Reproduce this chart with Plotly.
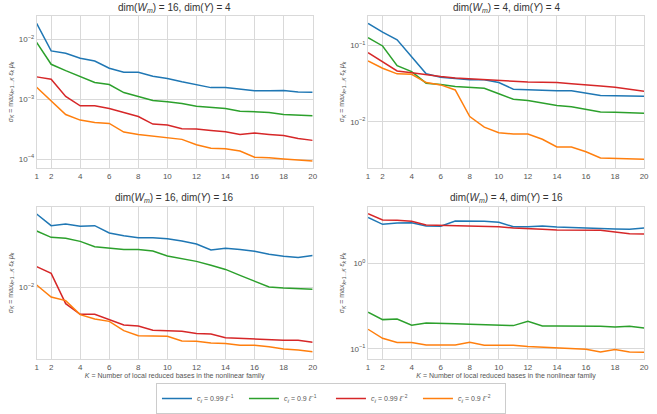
import plotly.graph_objects as go

K = list(range(1, 21))

series_names = [
    "<i>c<sub>ℓ</sub></i> = 0.99 <i>ℓ</i><sup>−1</sup>",
    "<i>c<sub>ℓ</sub></i> = 0.9 <i>ℓ</i><sup>−1</sup>",
    "<i>c<sub>ℓ</sub></i> = 0.99 <i>ℓ</i><sup>−2</sup>",
    "<i>c<sub>ℓ</sub></i> = 0.9 <i>ℓ</i><sup>−2</sup>",
]
colors = ["#1f77b4", "#2ca02c", "#d62728", "#ff7f0e"]

panel_titles = [
    "dim(<i>W<sub>m</sub></i>) = 16, dim(<i>Y</i>) = 4",
    "dim(<i>W<sub>m</sub></i>) = 4, dim(<i>Y</i>) = 4",
    "dim(<i>W<sub>m</sub></i>) = 16, dim(<i>Y</i>) = 16",
    "dim(<i>W<sub>m</sub></i>) = 4, dim(<i>Y</i>) = 16",
]

# Panel 1: dim(Wm)=16, dim(Y)=4
p1_blue = [0.0185, 0.0064, 0.00585, 0.00482, 0.00435, 0.00329, 0.00282, 0.00282, 0.00242, 0.00221,
           0.00195, 0.00176, 0.00156, 0.00156, 0.00147, 0.00138, 0.00138, 0.00139, 0.00132, 0.00131]
p1_green = [0.0089, 0.00383, 0.0030, 0.00239, 0.0019, 0.00176, 0.00129, 0.00111, 0.00095, 0.000903,
            0.000847, 0.000764, 0.000736, 0.000699, 0.000631, 0.000607, 0.0006, 0.000555, 0.000535, 0.000528]
p1_red = [0.00236, 0.00216, 0.00111, 0.000774, 0.000774, 0.000699, 0.0006, 0.000514, 0.000383, 0.000369,
          0.00032, 0.000316, 0.0003, 0.000286, 0.000258, 0.000271, 0.000258, 0.000248, 0.000221, 0.000205]
p1_orange = [0.00158, 0.00095, 0.000555, 0.000447, 0.000408, 0.000393, 0.000282, 0.000258, 0.000242, 0.00023,
             0.000213, 0.000173, 0.000151, 0.000149, 0.000136, 0.000107, 0.000105, 0.0001, 0.0000975, 0.0000927]

# Panel 2: dim(Wm)=4, dim(Y)=4
p2_blue = [0.196, 0.150, 0.119, 0.0717, 0.0426, 0.0385, 0.037, 0.0355, 0.0355, 0.0327,
           0.0268, 0.0262, 0.0255, 0.0255, 0.0255, 0.0238, 0.0221, 0.0219, 0.0217, 0.0217]
p2_green = [0.127, 0.099, 0.0547, 0.0456, 0.0321, 0.0309, 0.029, 0.0282, 0.0276, 0.0233,
            0.0198, 0.019, 0.0177, 0.0164, 0.0157, 0.0145, 0.0134, 0.0133, 0.013, 0.0129]
p2_red = [0.081, 0.0617, 0.0465, 0.0442, 0.0413, 0.0393, 0.0377, 0.0366, 0.0359, 0.0352,
          0.0341, 0.0334, 0.0331, 0.0328, 0.0315, 0.0302, 0.0296, 0.0285, 0.0271, 0.0252]
p2_orange = [0.063, 0.0505, 0.0426, 0.0421, 0.0327, 0.0305, 0.0262, 0.0117, 0.0085, 0.0072,
             0.0069, 0.0069, 0.0059, 0.00466, 0.00466, 0.00404, 0.00334, 0.00331, 0.00321, 0.00321]

# Panel 3: dim(Wm)=16, dim(Y)=16
p3_blue = [0.0526, 0.0404, 0.0419, 0.0398, 0.0404, 0.0342, 0.0322, 0.0308, 0.0308, 0.0301,
           0.0285, 0.0267, 0.0233, 0.0242, 0.0236, 0.0226, 0.0211, 0.0202, 0.0197, 0.0206]
p3_green = [0.0358, 0.0310, 0.0303, 0.0283, 0.0251, 0.0242, 0.0235, 0.0235, 0.0228, 0.0203,
            0.0191, 0.0180, 0.0165, 0.0150, 0.0131, 0.01145, 0.01008, 0.00985, 0.00978, 0.00956]
p3_red = [0.0160, 0.0137, 0.00691, 0.00543, 0.00543, 0.00485, 0.00427, 0.00417, 0.00378, 0.00375,
          0.00370, 0.00351, 0.00348, 0.00320, 0.00315, 0.00308, 0.00304, 0.00301, 0.00301, 0.00288]
p3_orange = [0.01054, 0.00804, 0.00740, 0.00539, 0.00489, 0.00463, 0.00375, 0.00335, 0.00332, 0.00330,
             0.00297, 0.00295, 0.00284, 0.00280, 0.00269, 0.00269, 0.00261, 0.00248, 0.00242, 0.00233]

# Panel 4: dim(Wm)=4, dim(Y)=16
p4_blue = [3.44, 2.853, 2.957, 2.984, 2.728, 2.704, 3.120, 3.120, 3.092, 3.010,
           2.679, 2.679, 2.728, 2.655, 2.608, 2.562, 2.516, 2.516, 2.494, 2.585]
p4_green = [0.268, 0.220, 0.224, 0.189, 0.201, 0.201, 0.1975, 0.194, 0.1906, 0.1873,
            0.1873, 0.2104, 0.1856, 0.1856, 0.1856, 0.1856, 0.1839, 0.1806, 0.1839, 0.1758]
p4_red = [3.801, 3.204, 3.177, 3.092, 2.803, 2.778, 2.704, 2.679, 2.679, 2.679,
          2.585, 2.562, 2.494, 2.449, 2.449, 2.449, 2.428, 2.322, 2.220, 2.200]
p4_orange = [0.1697, 0.1332, 0.1186, 0.1186, 0.1113, 0.1123, 0.1113, 0.1196, 0.1103, 0.1103,
             0.1103, 0.1065, 0.1046, 0.1009, 0.0991, 0.0991, 0.0923, 0.0982, 0.0923, 0.0915]

panels = [
    [p1_blue, p1_green, p1_red, p1_orange],
    [p2_blue, p2_green, p2_red, p2_orange],
    [p3_blue, p3_green, p3_red, p3_orange],
    [p4_blue, p4_green, p4_red, p4_orange],
]

x_ticks = [1, 2, 4, 6, 8, 10, 12, 14, 16, 18, 20]
y_tick_vals = [[1e-4, 1e-3, 1e-2], [1e-2, 1e-1], [1e-2], [1e-1, 1e0]]
y_tick_text = [["10<sup>−4</sup>", "10<sup>−3</sup>", "10<sup>−2</sup>"],
               ["10<sup>−2</sup>", "10<sup>−1</sup>"],
               ["10<sup>−2</sup>"],
               ["10<sup>−1</sup>", "10<sup>0</sup>"]]
y_ranges = [[-4.15, -1.61], [-2.607, -0.611], [-2.7075, -1.2073], [-1.121, 0.661]]

W, H = 657, 414
x_doms = [[35 / W, 314 / W], [370 / W, 649 / W]]
y_doms = [[1 - 168 / H, 1 - 16 / H], [1 - 359.3 / H, 1 - 206.7 / H]]
title_y_px = [8, 198]

fig = go.Figure()
font_family = "Liberation Sans, Arial, sans-serif"
grid_c = "#d9d9d9"
text_c = "#555555"

ylabel = "<i>σ<sub>K</sub></i> = max<sub><i>k</i>=1…<i>K</i></sub> <i>ε<sub>k</sub> μ<sub>k</sub></i>"

for i in range(4):
    r, c = divmod(i, 2)
    n = i + 1
    xa = "x" if n == 1 else f"x{n}"
    ya = "y" if n == 1 else f"y{n}"
    for j in range(4):
        fig.add_trace(go.Scatter(
            x=K, y=panels[i][j], mode="lines", name=series_names[j],
            line=dict(color=colors[j], width=1.5),
            xaxis=xa, yaxis=ya, showlegend=(i == 0),
        ))
    xkey = "xaxis" if n == 1 else f"xaxis{n}"
    ykey = "yaxis" if n == 1 else f"yaxis{n}"
    fig.layout[xkey] = dict(
        domain=x_doms[c], anchor=ya, range=[1, 20], tickvals=x_ticks,
        showgrid=True, gridcolor=grid_c, gridwidth=1, zeroline=False,
        showline=True, linecolor=grid_c, mirror=True, ticks="",
        tickfont=dict(size=8, color=text_c, family=font_family),
        title=dict(text="<i>K</i> = Number of local reduced bases in the nonlinear family" if r == 1 else "",
                   font=dict(size=7, color=text_c, family=font_family), standoff=2),
    )
    fig.layout[ykey] = dict(
        domain=y_doms[r], anchor=xa, type="log", range=y_ranges[i],
        tickvals=y_tick_vals[i], ticktext=y_tick_text[i],
        showgrid=True, gridcolor=grid_c, gridwidth=1, zeroline=False,
        showline=True, linecolor=grid_c, mirror=True, ticks="",
        tickfont=dict(size=8, color=text_c, family=font_family),
        title=dict(text=ylabel, font=dict(size=7, color=text_c, family=font_family), standoff=4),
    )
    fig.add_annotation(
        text=panel_titles[i], xref="paper", yref="paper",
        x=(x_doms[c][0] + x_doms[c][1]) / 2, y=1 - title_y_px[r] / H,
        xanchor="center", yanchor="middle", showarrow=False,
        font=dict(size=10, color="#333333", family=font_family),
    )

fig.update_layout(
    width=W, height=H, margin=dict(l=0, r=0, t=0, b=0),
    paper_bgcolor="white", plot_bgcolor="white",
    showlegend=True,
    legend=dict(
        orientation="h", x=(172 + 493) / 2 / W, xanchor="center",
        y=0, yanchor="bottom",
        font=dict(size=7, color=text_c, family=font_family),
        bordercolor="#cccccc", borderwidth=1, bgcolor="white",
        entrywidth=42, itemwidth=30, tracegroupgap=0,
    ),
)

fig.write_html("out.html")
